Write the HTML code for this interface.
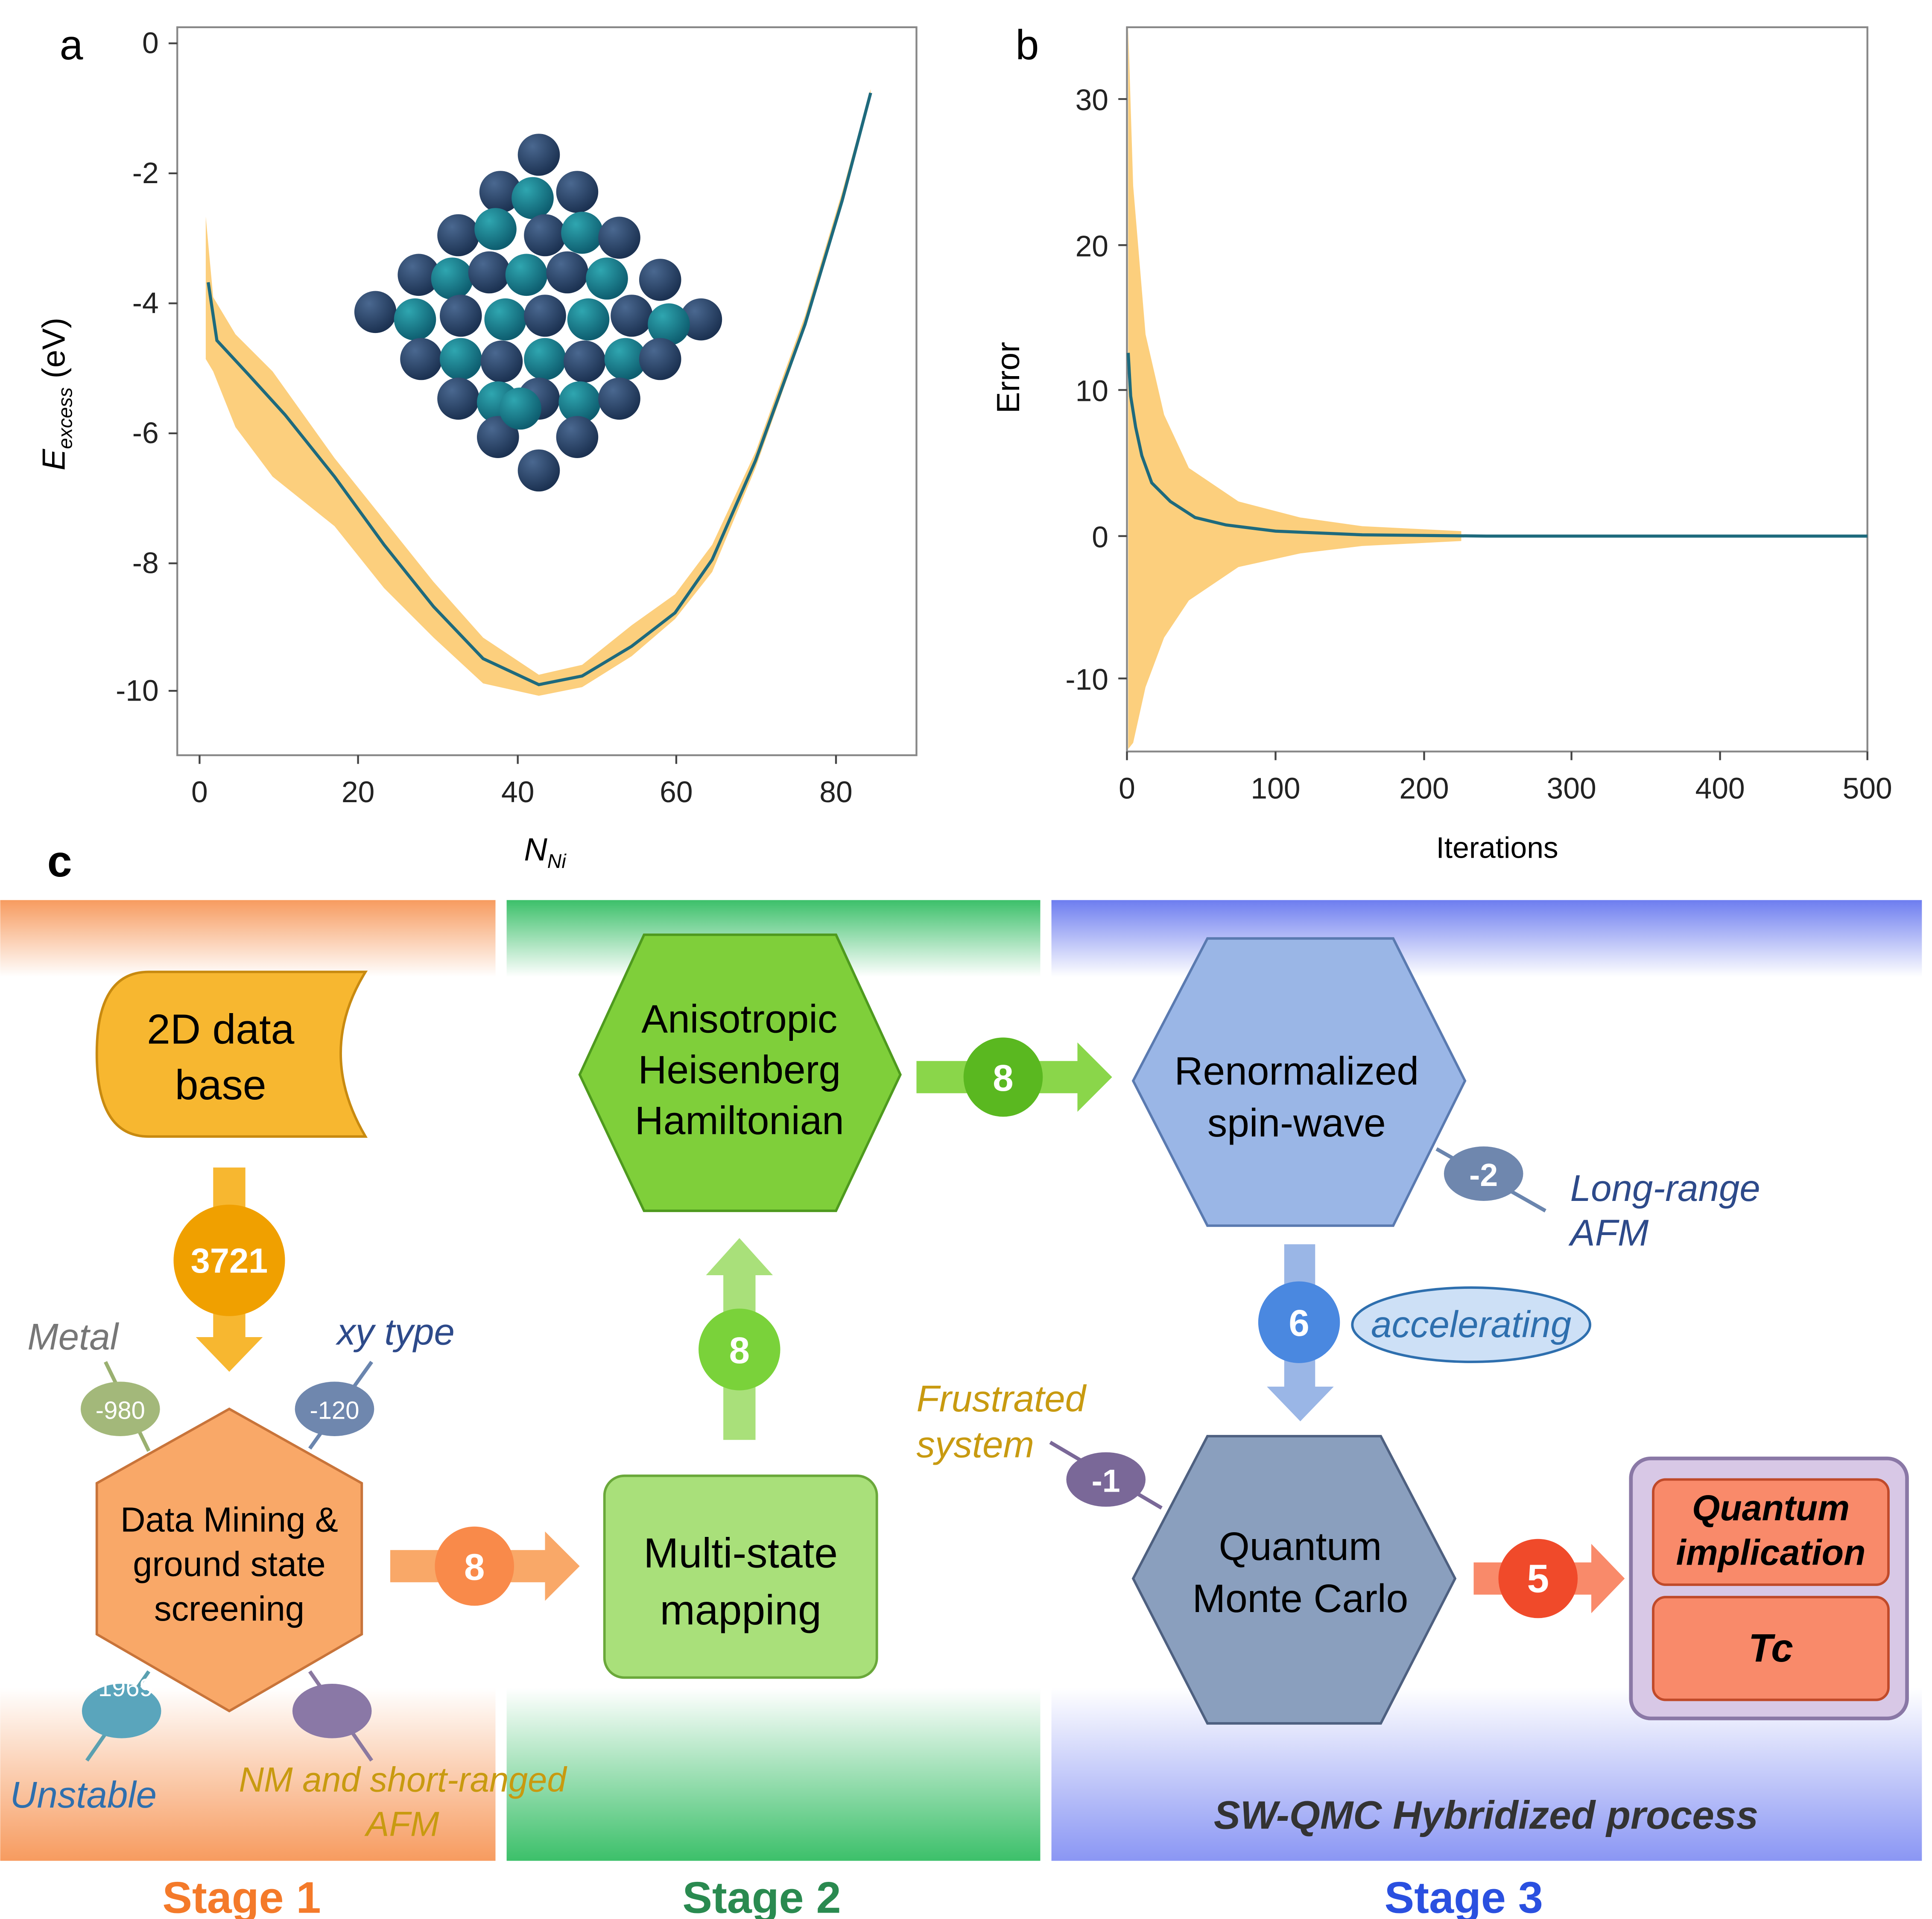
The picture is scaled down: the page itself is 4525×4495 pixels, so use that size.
<!DOCTYPE html>
<html><head><meta charset="utf-8"><style>
html,body{margin:0;padding:0;background:#fff;}
svg{display:block;}
text{font-family:"Liberation Sans",Arial,sans-serif;}
</style></head><body>
<svg width="4525" height="4495" viewBox="0 0 1560 1550" xmlns="http://www.w3.org/2000/svg">
<defs>
<linearGradient id="g1" x1="0" y1="0" x2="0" y2="1"><stop offset="0" stop-color="#f79b5f"/><stop offset="0.08" stop-color="#fff"/><stop offset="0.82" stop-color="#fff"/><stop offset="1" stop-color="#f79b5f"/></linearGradient>
<linearGradient id="g2" x1="0" y1="0" x2="0" y2="1"><stop offset="0" stop-color="#3cc06a"/><stop offset="0.08" stop-color="#fff"/><stop offset="0.82" stop-color="#fff"/><stop offset="1" stop-color="#3cc06a"/></linearGradient>
<linearGradient id="g3" x1="0" y1="0" x2="0" y2="1"><stop offset="0" stop-color="#6d7df0"/><stop offset="0.08" stop-color="#fff"/><stop offset="0.82" stop-color="#fff"/><stop offset="1" stop-color="#8a96f4"/></linearGradient>
<radialGradient id="bd" cx="0.35" cy="0.3" r="0.7"><stop offset="0" stop-color="#4a6890"/><stop offset="1" stop-color="#1c3252"/></radialGradient>
<radialGradient id="bt" cx="0.35" cy="0.3" r="0.7"><stop offset="0" stop-color="#2fa6b0"/><stop offset="1" stop-color="#0e5e70"/></radialGradient>
</defs>
<rect width="1560" height="1550" fill="#fff"/>
<!-- Panel a -->
<text x="48" y="48" font-size="34">a</text>
<rect x="143" y="22" width="597" height="588" fill="none" stroke="#888" stroke-width="1.5"/>
<g font-size="24" fill="#222" text-anchor="end">
<text x="128" y="43">0</text><text x="128" y="148">-2</text><text x="128" y="253">-4</text><text x="128" y="358">-6</text><text x="128" y="463">-8</text><text x="128" y="566">-10</text>
</g>
<g stroke="#444" stroke-width="1.5">
<line x1="136" y1="35" x2="143" y2="35"/><line x1="136" y1="140" x2="143" y2="140"/><line x1="136" y1="245" x2="143" y2="245"/><line x1="136" y1="350" x2="143" y2="350"/><line x1="136" y1="455" x2="143" y2="455"/><line x1="136" y1="558" x2="143" y2="558"/>
<line x1="161" y1="610" x2="161" y2="617"/><line x1="289" y1="610" x2="289" y2="617"/><line x1="418" y1="610" x2="418" y2="617"/><line x1="546" y1="610" x2="546" y2="617"/><line x1="675" y1="610" x2="675" y2="617"/>
</g>
<g font-size="24" fill="#222" text-anchor="middle">
<text x="161" y="648">0</text><text x="289" y="648">20</text><text x="418" y="648">40</text><text x="546" y="648">60</text><text x="675" y="648">80</text>
</g>
<text x="440" y="695" font-size="26" font-style="italic" text-anchor="middle">N<tspan font-size="16" dy="6">Ni</tspan></text>
<text transform="translate(52,380) rotate(-90)" font-size="26"><tspan font-style="italic">E</tspan><tspan font-size="16" font-style="italic" dy="6">excess</tspan><tspan dy="-6"> (eV)</tspan></text>
<path d="M166,175 L172,240 L190,270 L220,300 L270,370 L310,420 L350,470 L390,515 L435,545 L470,537 L510,505 L545,480 L575,440 L610,365 L650,255 L680,155 L703,72 L703,78 L680,165 L650,265 L610,378 L575,462 L545,500 L510,530 L470,555 L435,562 L390,552 L350,515 L310,475 L270,425 L220,385 L190,345 L172,300 L166,290 Z" fill="#fcc766" opacity="0.85"/>
<polyline points="168,228 175,275 200,302 230,335 270,385 310,440 350,490 390,532 435,553 470,546 510,522 545,495 575,452 610,372 650,262 680,162 703,75" fill="none" stroke="#1e6a7d" stroke-width="2.5"/>
<!-- cluster -->
<g>
<circle cx="435" cy="125" r="17" fill="url(#bd)"/>
<circle cx="404" cy="155" r="17" fill="url(#bd)"/><circle cx="430" cy="160" r="17" fill="url(#bt)"/><circle cx="466" cy="155" r="17" fill="url(#bd)"/>
<circle cx="370" cy="190" r="17" fill="url(#bd)"/><circle cx="400" cy="185" r="17" fill="url(#bt)"/><circle cx="440" cy="190" r="17" fill="url(#bd)"/><circle cx="470" cy="188" r="17" fill="url(#bt)"/><circle cx="500" cy="192" r="17" fill="url(#bd)"/>
<circle cx="338" cy="222" r="17" fill="url(#bd)"/><circle cx="365" cy="225" r="17" fill="url(#bt)"/><circle cx="395" cy="220" r="17" fill="url(#bd)"/><circle cx="425" cy="222" r="17" fill="url(#bt)"/><circle cx="458" cy="220" r="17" fill="url(#bd)"/><circle cx="490" cy="225" r="17" fill="url(#bt)"/><circle cx="533" cy="226" r="17" fill="url(#bd)"/>
<circle cx="303" cy="252" r="17" fill="url(#bd)"/><circle cx="335" cy="258" r="17" fill="url(#bt)"/><circle cx="372" cy="255" r="17" fill="url(#bd)"/><circle cx="408" cy="258" r="17" fill="url(#bt)"/><circle cx="440" cy="255" r="17" fill="url(#bd)"/><circle cx="475" cy="258" r="17" fill="url(#bt)"/><circle cx="510" cy="255" r="17" fill="url(#bd)"/><circle cx="566" cy="258" r="17" fill="url(#bd)"/><circle cx="540" cy="262" r="17" fill="url(#bt)"/>
<circle cx="340" cy="290" r="17" fill="url(#bd)"/><circle cx="372" cy="290" r="17" fill="url(#bt)"/><circle cx="405" cy="292" r="17" fill="url(#bd)"/><circle cx="440" cy="290" r="17" fill="url(#bt)"/><circle cx="472" cy="292" r="17" fill="url(#bd)"/><circle cx="505" cy="290" r="17" fill="url(#bt)"/><circle cx="533" cy="290" r="17" fill="url(#bd)"/>
<circle cx="370" cy="322" r="17" fill="url(#bd)"/><circle cx="402" cy="325" r="17" fill="url(#bt)"/><circle cx="435" cy="322" r="17" fill="url(#bd)"/><circle cx="468" cy="325" r="17" fill="url(#bt)"/><circle cx="500" cy="322" r="17" fill="url(#bd)"/>
<circle cx="402" cy="353" r="17" fill="url(#bd)"/><circle cx="420" cy="330" r="17" fill="url(#bt)"/><circle cx="466" cy="353" r="17" fill="url(#bd)"/>
<circle cx="435" cy="380" r="17" fill="url(#bd)"/>
</g>
<!-- Panel b -->
<text x="820" y="48" font-size="34">b</text>
<rect x="910" y="22" width="598" height="585" fill="none" stroke="#888" stroke-width="1.5"/>
<g font-size="24" fill="#222" text-anchor="end">
<text x="895" y="89">30</text><text x="895" y="207">20</text><text x="895" y="324">10</text><text x="895" y="442">0</text><text x="895" y="557">-10</text>
</g>
<g stroke="#444" stroke-width="1.5">
<line x1="903" y1="80" x2="910" y2="80"/><line x1="903" y1="198" x2="910" y2="198"/><line x1="903" y1="315" x2="910" y2="315"/><line x1="903" y1="433" x2="910" y2="433"/><line x1="903" y1="548" x2="910" y2="548"/>
<line x1="910" y1="607" x2="910" y2="614"/><line x1="1030" y1="607" x2="1030" y2="614"/><line x1="1150" y1="607" x2="1150" y2="614"/><line x1="1269" y1="607" x2="1269" y2="614"/><line x1="1389" y1="607" x2="1389" y2="614"/><line x1="1508" y1="607" x2="1508" y2="614"/>
</g>
<g font-size="24" fill="#222" text-anchor="middle">
<text x="910" y="645">0</text><text x="1030" y="645">100</text><text x="1150" y="645">200</text><text x="1269" y="645">300</text><text x="1389" y="645">400</text><text x="1508" y="645">500</text>
</g>
<text x="1209" y="693" font-size="24" text-anchor="middle">Iterations</text>
<text transform="translate(823,305) rotate(-90)" font-size="26" text-anchor="middle">Error</text>
<path d="M911,22 L915,150 L925,270 L940,335 L960,378 L1000,405 L1050,418 L1100,425 L1180,429 L1180,437 L1100,441 L1050,447 L1000,458 L960,485 L940,515 L925,555 L915,600 L911,605 Z" fill="#fcc766" opacity="0.85"/>
<polyline points="911,285 913,320 917,345 922,368 930,390 945,405 965,418 990,424 1030,429 1100,432 1200,433 1508,433" fill="none" stroke="#1e6a7d" stroke-width="2.5"/>
<!-- Panel c -->
<text x="38" y="708" font-size="36" font-weight="bold">c</text>
<rect x="0" y="727" width="400" height="776" fill="url(#g1)"/>
<rect x="409" y="727" width="431" height="776" fill="url(#g2)"/>
<rect x="849" y="727" width="703" height="776" fill="url(#g3)"/>
<g font-size="36" font-weight="bold" text-anchor="middle">
<text x="195" y="1545" fill="#f47a2a">Stage 1</text>
<text x="615" y="1545" fill="#2a8a50">Stage 2</text>
<text x="1182" y="1545" fill="#2a50e0">Stage 3</text>
</g>
<!-- 2D data base -->
<path d="M120,785 L295,785 Q255,850 295,918 L120,918 Q78,918 78,851 Q78,785 120,785 Z" fill="#f7b730" stroke="#c88a10" stroke-width="2"/>
<text x="178" y="843" font-size="34" text-anchor="middle">2D data</text>
<text x="178" y="888" font-size="34" text-anchor="middle">base</text>
<!-- down arrow -->
<path d="M172,943 L198,943 L198,1080 L212,1080 L185,1108 L158,1080 L172,1080 Z" fill="#f7b730"/>
<circle cx="185" cy="1018" r="45" fill="#f0a000"/>
<text x="185" y="1028" font-size="28" font-weight="bold" fill="#fff" text-anchor="middle">3721</text>
<!-- Data mining hex -->
<polygon points="185,1138 292,1198 292,1320 185,1382 78,1320 78,1198" fill="#f9a868" stroke="#c8743a" stroke-width="2"/>
<text x="185" y="1237" font-size="28" text-anchor="middle">Data Mining &amp;</text>
<text x="185" y="1273" font-size="28" text-anchor="middle">ground state</text>
<text x="185" y="1309" font-size="28" text-anchor="middle">screening</text>
<!-- small side ellipses -->
<line x1="120" y1="1172" x2="85" y2="1100" stroke="#9ab070" stroke-width="3"/>
<ellipse cx="97" cy="1138" rx="32" ry="22" fill="#a3b87a"/><text x="97" y="1146" font-size="20" fill="#fff" text-anchor="middle">-980</text>
<text x="22" y="1090" font-size="30" font-style="italic" fill="#777">Metal</text>
<line x1="250" y1="1170" x2="300" y2="1100" stroke="#6a85ae" stroke-width="3"/>
<ellipse cx="270" cy="1138" rx="32" ry="22" fill="#6f87ae"/><text x="270" y="1146" font-size="20" fill="#fff" text-anchor="middle">-120</text>
<text x="272" y="1086" font-size="30" font-style="italic" fill="#2d4a8a">xy type</text>
<line x1="120" y1="1350" x2="70" y2="1422" stroke="#5aa0b0" stroke-width="3"/>
<ellipse cx="98" cy="1382" rx="32" ry="22" fill="#5aa5bc"/><text x="98" y="1370" font-size="20" fill="#fff" text-anchor="middle">-1969</text>
<text x="8" y="1460" font-size="30" font-style="italic" fill="#2e6fae">Unstable</text>
<line x1="250" y1="1350" x2="300" y2="1422" stroke="#8a78a0" stroke-width="3"/>
<ellipse cx="268" cy="1382" rx="32" ry="22" fill="#8a78a6"/>
<text x="325" y="1447" font-size="28" font-style="italic" fill="#c89a10" text-anchor="middle">NM and short-ranged</text>
<text x="325" y="1483" font-size="28" font-style="italic" fill="#c89a10" text-anchor="middle">AFM</text>
<!-- arrow 8 orange -->
<path d="M315,1252 L440,1252 L440,1237 L468,1265 L440,1293 L440,1278 L315,1278 Z" fill="#f9a868"/>
<circle cx="383" cy="1265" r="32" fill="#f98a4a"/>
<text x="383" y="1276" font-size="30" font-weight="bold" fill="#fff" text-anchor="middle">8</text>
<!-- Multi-state -->
<rect x="488" y="1192" width="220" height="163" rx="16" fill="#a9e07a" stroke="#6aa83a" stroke-width="2"/>
<text x="598" y="1266" font-size="34" text-anchor="middle">Multi-state</text>
<text x="598" y="1312" font-size="34" text-anchor="middle">mapping</text>
<!-- up arrow -->
<path d="M584,1163 L610,1163 L610,1030 L624,1030 L597,1000 L570,1030 L584,1030 Z" fill="#a9e07a"/>
<circle cx="597" cy="1090" r="33" fill="#7ad23a"/>
<text x="597" y="1101" font-size="30" font-weight="bold" fill="#fff" text-anchor="middle">8</text>
<!-- Green hex -->
<polygon points="468,868 520,755 675,755 727,868 675,978 520,978" fill="#7fcf3a" stroke="#4e9a1e" stroke-width="2"/>
<text x="597" y="834" font-size="32" text-anchor="middle">Anisotropic</text>
<text x="597" y="875" font-size="32" text-anchor="middle">Heisenberg</text>
<text x="597" y="916" font-size="32" text-anchor="middle">Hamiltonian</text>
<!-- arrow 8 green -->
<path d="M740,857 L870,857 L870,842 L898,870 L870,898 L870,883 L740,883 Z" fill="#8ad64a"/>
<circle cx="810" cy="870" r="32" fill="#5ab820"/>
<text x="810" y="881" font-size="30" font-weight="bold" fill="#fff" text-anchor="middle">8</text>
<!-- blue hex -->
<polygon points="915,873 975,758 1125,758 1183,873 1125,990 975,990" fill="#9ab6e6" stroke="#5a7ab0" stroke-width="2"/>
<text x="1047" y="876" font-size="32" text-anchor="middle">Renormalized</text>
<text x="1047" y="918" font-size="32" text-anchor="middle">spin-wave</text>
<line x1="1160" y1="928" x2="1248" y2="978" stroke="#6a85ae" stroke-width="3"/>
<ellipse cx="1198" cy="948" rx="32" ry="22" fill="#6f87ae"/><text x="1198" y="958" font-size="26" font-weight="bold" fill="#fff" text-anchor="middle">-2</text>
<text x="1268" y="970" font-size="30" font-style="italic" fill="#2d4a8a">Long-range</text>
<text x="1268" y="1006" font-size="30" font-style="italic" fill="#2d4a8a">AFM</text>
<!-- down arrow blue -->
<path d="M1037,1005 L1062,1005 L1062,1120 L1077,1120 L1050,1148 L1023,1120 L1037,1120 Z" fill="#9ab6e6"/>
<circle cx="1049" cy="1068" r="33" fill="#4a88e0"/>
<text x="1049" y="1079" font-size="30" font-weight="bold" fill="#fff" text-anchor="middle">6</text>
<ellipse cx="1188" cy="1070" rx="96" ry="30" fill="#cde0f6" stroke="#2e6fae" stroke-width="2"/>
<text x="1188" y="1080" font-size="30" font-style="italic" fill="#2e6fae" text-anchor="middle">accelerating</text>
<!-- QMC hex -->
<polygon points="915,1275 975,1160 1115,1160 1175,1275 1115,1392 975,1392" fill="#8a9fbe" stroke="#4e6080" stroke-width="2"/>
<text x="1050" y="1260" font-size="32" text-anchor="middle">Quantum</text>
<text x="1050" y="1302" font-size="32" text-anchor="middle">Monte Carlo</text>
<line x1="938" y1="1218" x2="848" y2="1165" stroke="#7a6898" stroke-width="3"/>
<ellipse cx="893" cy="1195" rx="32" ry="22" fill="#7a6898"/><text x="893" y="1205" font-size="26" font-weight="bold" fill="#fff" text-anchor="middle">-1</text>
<text x="740" y="1140" font-size="30" font-style="italic" fill="#c89a10">Frustrated</text>
<text x="740" y="1177" font-size="30" font-style="italic" fill="#c89a10">system</text>
<!-- arrow 5 -->
<path d="M1190,1262 L1285,1262 L1285,1247 L1312,1275 L1285,1303 L1285,1288 L1190,1288 Z" fill="#f98a6a"/>
<circle cx="1242" cy="1275" r="32" fill="#f04a2a"/>
<text x="1242" y="1286" font-size="32" font-weight="bold" fill="#fff" text-anchor="middle">5</text>
<!-- Quantum box -->
<rect x="1317" y="1178" width="223" height="210" rx="16" fill="#d8c8e6" stroke="#8a78a6" stroke-width="3"/>
<rect x="1335" y="1195" width="190" height="85" rx="10" fill="#f98a6a" stroke="#c04a2a" stroke-width="2"/>
<rect x="1335" y="1290" width="190" height="83" rx="10" fill="#f98a6a" stroke="#c04a2a" stroke-width="2"/>
<text x="1430" y="1228" font-size="29" font-weight="bold" font-style="italic" text-anchor="middle">Quantum</text>
<text x="1430" y="1264" font-size="29" font-weight="bold" font-style="italic" text-anchor="middle">implication</text>
<text x="1430" y="1342" font-size="32" font-weight="bold" font-style="italic" text-anchor="middle">Tc</text>
<text x="1200" y="1477" font-size="32" font-weight="bold" font-style="italic" fill="#333" text-anchor="middle">SW-QMC Hybridized process</text>
</svg>
</body></html>
